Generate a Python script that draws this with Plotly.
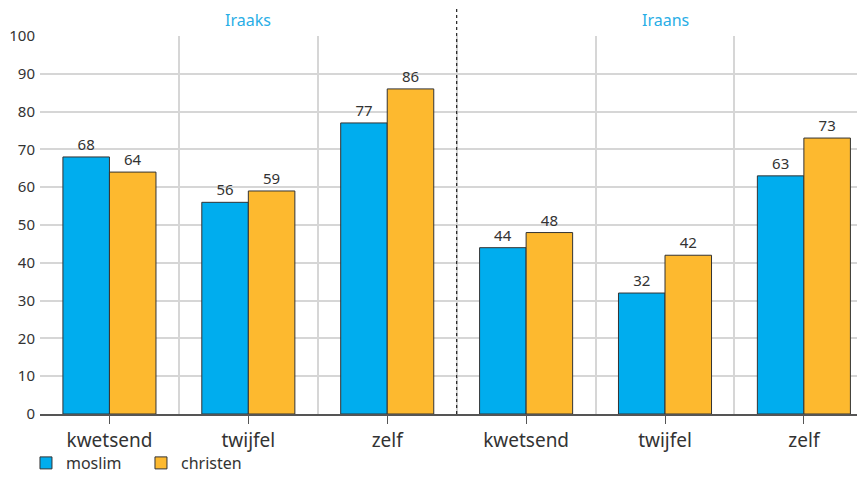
import plotly.graph_objects as go

categories = ["kwetsend", "twijfel", "zelf", "kwetsend", "twijfel", "zelf"]
groups = ["Iraaks", "Iraans"]
moslim = [68, 56, 77, 44, 32, 63]
christen = [64, 59, 86, 48, 42, 73]
y_ticks = [0, 10, 20, 30, 40, 50, 60, 70, 80, 90, 100]

xpos = list(range(len(categories)))
FONT = "Noto Sans"
TXT = "#333333"

fig = go.Figure()
fig.add_trace(go.Bar(
    x=xpos, y=moslim, name="moslim",
    marker=dict(color="#00adee", line=dict(color="#333333", width=1)),
    text=[str(v) for v in moslim], textposition="outside",
    textfont=dict(size=15, color=TXT, family=FONT), cliponaxis=False,
))
fig.add_trace(go.Bar(
    x=xpos, y=christen, name="christen",
    marker=dict(color="#fdb92f", line=dict(color="#333333", width=1)),
    text=[str(v) for v in christen], textposition="outside",
    textfont=dict(size=15, color=TXT, family=FONT), cliponaxis=False,
))

# dotted separator between the two groups
fig.add_shape(type="line", xref="x", yref="paper", x0=2.5, x1=2.5, y0=0, y1=1.082,
              line=dict(color="#222222", width=1.2, dash="dot"))
# group titles
for i, g in enumerate(groups):
    fig.add_annotation(x=1 + 3 * i, y=1.0, xref="x", yref="paper", text=g,
                       showarrow=False, yanchor="bottom", yshift=3,
                       font=dict(size=16, color="#29aee6", family=FONT))

fig.update_layout(
    width=857, height=472,
    margin=dict(l=32, r=0, t=28, b=66),
    plot_bgcolor="white", paper_bgcolor="white",
    barmode="group", bargap=0.33, bargroupgap=0,
    font=dict(family=FONT, color=TXT, size=16),
    showlegend=True,
    legend=dict(orientation="h", x=-0.017, xanchor="left",
                yref="container", y=0.0, yanchor="bottom",
                bgcolor="rgba(0,0,0,0)",
                font=dict(size=16, color=TXT, family=FONT), itemwidth=30,
                entrywidth=70, entrywidthmode="pixels",
                traceorder="normal"),
    xaxis=dict(
        tickmode="array", tickvals=xpos, ticktext=categories,
        range=[-0.5, 5.44], showgrid=False, automargin=False,
        showline=True, linecolor="#555555", linewidth=1.5,
        ticks="outside", ticklen=8, tickcolor="#555555",
        tickfont=dict(size=19, color=TXT),
        minor=dict(tickvals=[0.5, 1.5, 2.5, 3.5, 4.5], showgrid=True,
                   gridcolor="#d6d6d6", gridwidth=1.5, ticks=""),
        zeroline=False,
    ),
    yaxis=dict(
        range=[0, 100], tickvals=y_ticks, showgrid=True, gridcolor="#d6d6d6",
        gridwidth=1.5, zeroline=False, showline=False, ticks="",
        automargin=False, ticklabelstandoff=4,
        tickfont=dict(size=15, color=TXT),
    ),
)

fig.write_html("out.html")
